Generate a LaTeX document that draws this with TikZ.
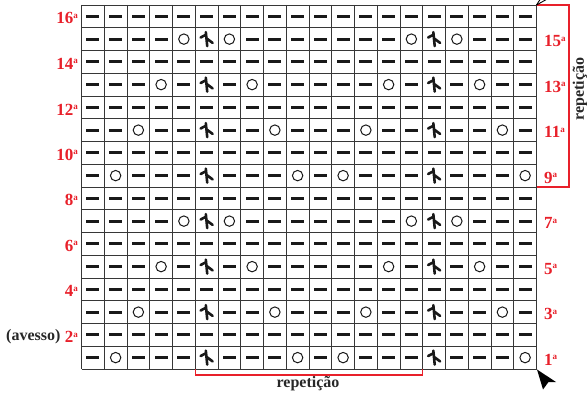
\documentclass[tikz,border=0pt]{standalone}
\usepackage{fontspec}
\setmainfont{Liberation Serif}
\usetikzlibrary{arrows.meta}
\definecolor{lblred}{RGB}{232,32,42}
\definecolor{gridc}{RGB}{55,55,55}
\definecolor{darktxt}{RGB}{40,40,40}
\newcommand{\ordA}{\raisebox{5.5pt}{\fontsize{9}{9}\selectfont a}}
\begin{document}
\begin{tikzpicture}[x=1pt,y=-1pt,
  gridline/.style={draw=gridc,line width=0.9pt},
  rowlbl/.style={text=lblred,font=\fontsize{17}{19}\selectfont\bfseries,inner sep=0pt},
  darklbl/.style={text=darktxt,font=\fontsize{16}{18}\selectfont\bfseries,inner sep=0pt},
  bracket/.style={draw=lblred,line width=1.1pt},
  dashsym/.pic={\fill[black!90] (-6.4,-1.6) rectangle (6.4,1.6);},
  ringsym/.pic={\draw[black!90,line width=1pt] (0,0) circle (5.2);},
  decsym/.pic={\draw[black!90,line width=2.6pt,line cap=round,line join=round]
      (-6,-1.6) -- (-0.3,-4.6)
      (-0.8,-7) -- (0.6,7)
      (0.2,-0.5) -- (6,3.8);}
]
\useasboundingbox (0,0) rectangle (587,393);
\clip (0,0) rectangle (587,393);

% grid
\foreach \i in {0,...,20}
  \draw[gridline] ({81.5+22.75*\i},5) -- ({81.5+22.75*\i},369);
\foreach \j in {0,...,16}
  \draw[gridline] (81.5,{5+22.75*\j}) -- (536.5,{5+22.75*\j});

% symbols
\foreach \r in {1,...,16}{
  \foreach \c in {1,...,20}{
    \pgfmathtruncatemacro\cc{mod(\c-1,10)+1}
    \pgfmathtruncatemacro\odd{mod(\r,2)}
    \pgfmathtruncatemacro\m{mod(int((\r-1)/2),4)}
    \pgfmathtruncatemacro\a{\m+2}
    \pgfmathtruncatemacro\b{10-\m}
    \pgfmathsetmacro\cx{81.5+22.75*(\c-0.5)}
    \pgfmathsetmacro\cy{369-22.75*(\r-0.5)}
    \ifnum\odd=0
      \pic at (\cx,\cy) {dashsym};
    \else
      \ifnum\cc=6
        \pic at (\cx,\cy) {decsym};
      \else
        \ifnum\cc=\a
          \pic at (\cx,\cy) {ringsym};
        \else
          \ifnum\cc=\b
            \pic at (\cx,\cy) {ringsym};
          \else
            \pic at (\cx,\cy) {dashsym};
          \fi
        \fi
      \fi
    \fi
  }
}

% row labels
\foreach \r in {4,6,...,16}{
  \pgfmathsetmacro\cy{369-22.75*(\r-0.5)+2}
  \node[rowlbl,anchor=east] (L\r) at (78,\cy) {\r\ordA};
}
\node[rowlbl,anchor=east] (L2) at (78,{369-22.75*1.5+2}) {2\ordA};
\node[darklbl,anchor=east] (avesso) at ([xshift=-4pt]L2.west) {(avesso)};
\foreach \r in {1,3,...,15}{
  \pgfmathsetmacro\cy{369-22.75*(\r-0.5)+2}
  \node[rowlbl,anchor=west] (R\r) at (544,\cy) {\r\ordA};
}

% repeat brackets
\coordinate (rb1) at (536.5,5);
\coordinate (rb2) at (569,5);
\coordinate (rb3) at (569,187);
\coordinate (rb4) at (536.5,187);
\draw[bracket] (rb1) -- (rb2) -- (rb3) -- (rb4);
\node[darklbl,rotate=90] (reprt) at (580,89) {repetição};

\coordinate (bb1) at ({81.5+22.75*5},369);
\coordinate (bb2) at ({81.5+22.75*5},375);
\coordinate (bb3) at ({81.5+22.75*15},375);
\coordinate (bb4) at ({81.5+22.75*15},369);
\draw[bracket] (bb1) -- (bb2) -- (bb3) -- (bb4);
\node[darklbl] (repbot) at (308,383.5) {repetição};

% start arrow (bottom right)
\coordinate (tipb) at (537,369.5);
\fill[black] (tipb) -- (556,382) -- (548.5,382) -- (543,389.5) -- cycle;

% top right arrow (partly outside)
\coordinate (tipt) at (536.5,5);
\draw[black,line width=0.9pt] (tipt) -- (549,-2);
\draw[black,line width=0.9pt] (tipt) -- (541,-2);
\end{tikzpicture}
\end{document}
